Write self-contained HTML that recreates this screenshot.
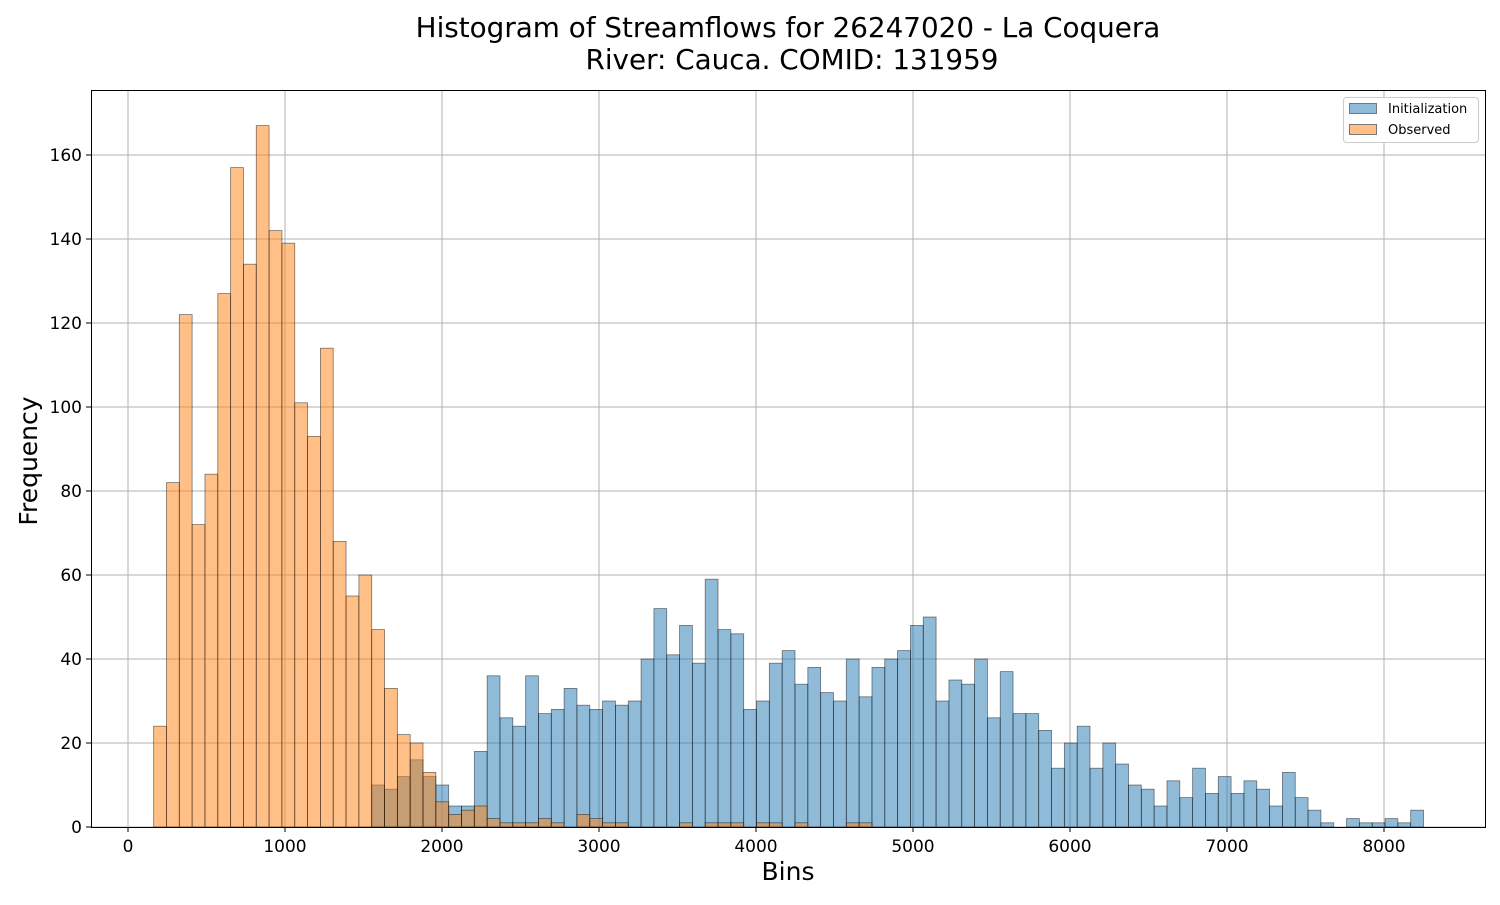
<!DOCTYPE html>
<html><head><meta charset="utf-8"><style>
body{margin:0;background:#fff;}
svg text{font-family:"DejaVu Sans","Liberation Sans",sans-serif;}
</style></head><body>
<svg id="chart" width="1500" height="900">
<text x="788" y="37" text-anchor="middle" font-size="27.8">Histogram of Streamflows for 26247020 - La Coquera</text>
<text x="792" y="69" text-anchor="middle" font-size="27.8">River: Cauca. COMID: 131959</text>
<g id="grid"></g>
<g id="bars"></g>
<rect x="91.5" y="90.5" width="1394" height="737" fill="none" stroke="#000" stroke-width="1"/>
<g id="axes"></g>
<text x="788" y="880" text-anchor="middle" font-size="25">Bins</text>
<text transform="translate(37,461) rotate(-90)" text-anchor="middle" font-size="25">Frequency</text>
<g>
<rect x="1343.5" y="97.5" width="135" height="45" rx="3" fill="#fff" stroke="#ccc"/>
<g>
<rect x="1349.5" y="103.5" width="27" height="10" fill="#8fbbd9" stroke="#777"/>
<text x="1388" y="113" font-size="13">Initialization</text></g>
<g>
<rect x="1349.5" y="124.5" width="27" height="10" fill="#ffbf86" stroke="#777"/>
<text x="1388" y="134" font-size="13">Observed</text></g>
</g>
</svg>
<script>
const binWidth = 81.7;
const initStart = 19;
const initCounts = [10,9,12,16,12,10,5,5,18,36,26,24,36,27,28,33,29,28,30,29,30,40,52,41,48,39,59,47,46,28,30,39,42,34,38,32,30,40,31,38,40,42,48,50,30,35,34,40,26,37,27,27,23,14,20,24,14,20,15,10,9,5,11,7,14,8,12,8,11,9,5,13,7,4,1,0,2,1,1,2,1,4];
const obsStart = 2;
const obsCounts = [24,82,122,72,84,127,157,134,167,142,139,101,93,114,68,55,60,47,33,22,20,13,6,3,4,5,2,1,1,1,2,1,0,3,2,1,1,0,0,0,0,1,0,1,1,1,0,1,1,0,1,0,0,0,1,1];
const xTicks = [0,1000,2000,3000,4000,5000,6000,7000,8000];
const yTicks = [0,20,40,60,80,100,120,140,160];
const NS="http://www.w3.org/2000/svg";
const X = v => 128 + v*0.157;
const Y = v => 827 - v*4.2;
function mk(tag, attrs, parent){const e=document.createElementNS(NS,tag);for(const k in attrs)e.setAttribute(k,attrs[k]);parent.appendChild(e);return e;}
const grid=document.getElementById('grid'), axes=document.getElementById('axes'), bars=document.getElementById('bars');
xTicks.forEach(t=>{
  const gl=mk('line',{x1:X(t),x2:X(t),y1:90,y2:827,stroke:'#b0b0b0','stroke-width':1},grid);
  
  
  mk('line',{x1:X(t),x2:X(t),y1:827,y2:832,stroke:'#000'},axes);
  const tx=mk('text',{x:X(t),y:852,'text-anchor':'middle','font-size':17},axes);
  tx.textContent=t;
  
  
});
yTicks.forEach(t=>{
  const gl=mk('line',{x1:91,x2:1485,y1:Y(t),y2:Y(t),stroke:'#b0b0b0','stroke-width':1},grid);
  
  
  mk('line',{x1:86,x2:91,y1:Y(t),y2:Y(t),stroke:'#000'},axes);
  const tx=mk('text',{x:82,y:Y(t)+6,'text-anchor':'end','font-size':17},axes);
  tx.textContent=t;
  
  
});
function drawSeries(start, counts, color, name){
  counts.forEach((c,i)=>{
    if(c<=0) return;
    const x0=X((start+i)*binWidth), x1=X((start+i+1)*binWidth);
    const r=mk('rect',{x:x0,y:Y(c),width:x1-x0,height:Y(0)-Y(c),fill:color,'fill-opacity':0.5,stroke:'#000','stroke-opacity':0.5,'stroke-width':0.8},bars);
    
    
  });
}
drawSeries(initStart, initCounts, '#1f77b4', 'initialization-bar');
drawSeries(obsStart, obsCounts, '#ff7f0e', 'observed-bar');
</script>
</body></html>
